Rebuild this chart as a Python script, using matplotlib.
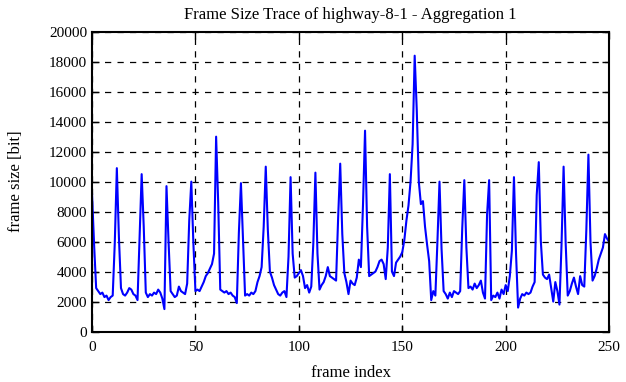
import numpy as np
import matplotlib.pyplot as plt

plt.rcParams['font.family'] = ['Liberation Serif', 'DejaVu Serif']

# frame sizes in bit, frames 0..250
frame_size = [
    9200, 5800, 2900, 2700, 2500, 2600, 2300, 2400, 2100, 2300, 2400, 5900,
    10900, 6300, 2900, 2500, 2400, 2600, 2900, 2800, 2500, 2400, 2100, 6200,
    10500, 7000, 2600, 2300, 2500, 2400, 2600, 2500, 2800, 2600, 2200, 1500,
    9700, 6000, 2700, 2500, 2300, 2400, 3000, 2700, 2600, 2500, 3200, 7400,
    10000, 5900, 2700, 2800, 2700, 3000, 3300, 3700, 3900, 4200, 4500, 5200,
    13000, 8600, 2800, 2700, 2600, 2700, 2500, 2600, 2400, 2300, 1900, 6600,
    9900, 6100, 2400, 2500, 2400, 2600, 2500, 2700, 3300, 3700, 4300, 7000,
    11000, 6800, 4000, 3600, 3100, 2800, 2500, 2400, 2600, 2700, 2300, 5000,
    10300, 5200, 3600, 3700, 3900, 4100, 3700, 2900, 3100, 2600, 3000, 5900,
    10600, 5200, 2800, 3100, 3300, 3700, 4300, 3700, 3600, 3500, 3400, 7600,
    11200, 6500, 3900, 3300, 2500, 3400, 3200, 3100, 3600, 4800, 4300, 8400,
    13400, 7000, 3700, 3800, 3900, 4000, 4300, 4700, 4800, 4500, 3500, 5600,
    10500, 4000, 3700, 4600, 4800, 5000, 5300, 6100, 7400, 8400, 10000, 12500,
    18400, 14800, 10000, 8500, 8700, 7000, 5800, 4700, 2100, 2700, 2400, 6000,
    10000, 5500, 2700, 2500, 2200, 2600, 2300, 2700, 2600, 2500, 2700, 6900,
    10100, 5600, 2900, 3000, 2800, 3200, 2900, 3100, 3400, 2600, 2200, 7800,
    10100, 2100, 2400, 2300, 2600, 2200, 2800, 2500, 3100, 2700, 3700, 5400,
    10300, 5200, 1600, 2200, 2500, 2400, 2600, 2500, 2600, 3000, 3300, 9100,
    11300, 6000, 3800, 3600, 3500, 3800, 2900, 2000, 3300, 2700, 1800, 5800,
    11000, 5900, 2400, 2700, 3200, 3600, 3000, 2500, 3700, 3100, 3000, 6800,
    11800, 6000, 3400, 3700, 4200, 4800, 5200, 5600, 6500, 6200, 6000,
]
frame_index = np.arange(len(frame_size))

x_ticks = [0, 50, 100, 150, 200, 250]
y_ticks = list(range(0, 20001, 2000))

fig = plt.figure(figsize=(6.26, 3.82), dpi=100)
ax = fig.add_axes([0.147, 0.132, 0.826, 0.785])

ax.plot(frame_index, frame_size, color='#0000ff', linewidth=1.5)

ax.set_xlim(0, 250)
ax.set_ylim(0, 20000)
ax.set_xticks(x_ticks)
ax.set_yticks(y_ticks)
ax.tick_params(direction='in', top=True, right=True, labelsize=11, length=5, width=1)
ax.tick_params(axis='x', pad=7)
ax.grid(True, color='black', linestyle=(0, (5, 5)), linewidth=0.9)
for s in ax.spines.values():
    s.set_linewidth(1.5)

ax.set_xlabel('frame index', fontsize=12, labelpad=8)
ax.set_ylabel('frame size [bit]', fontsize=12, labelpad=18)
ax.set_title('Frame Size Trace of highway-8-1 - Aggregation 1', fontsize=12, pad=9)

plt.savefig('out.png', dpi=100)
